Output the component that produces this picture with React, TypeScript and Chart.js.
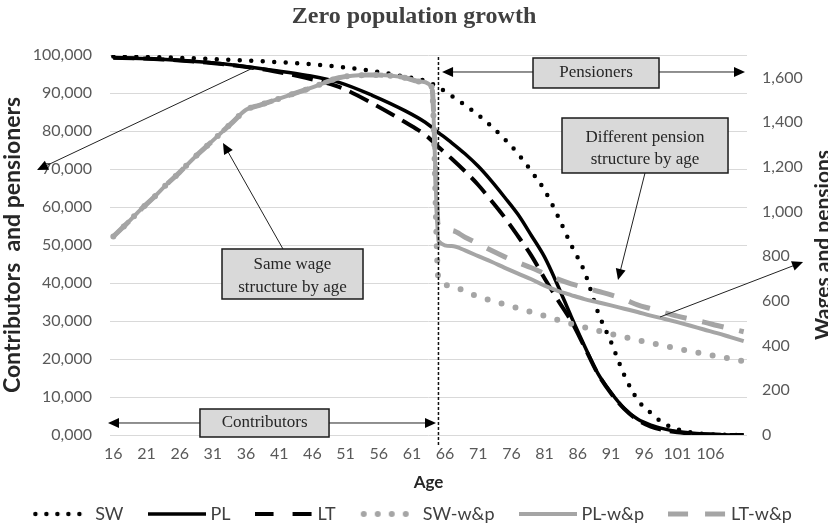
import React, { useEffect, useRef } from 'react';
import { Chart, registerables } from 'chart.js';

Chart.register(...registerables);

const chartTitle = 'Zero population growth';
const seriesNames = ['SW', 'PL', 'LT', 'SW-w&p', 'PL-w&p', 'LT-w&p'];

const xTickAges = [16, 21, 26, 31, 36, 41, 46, 51, 56, 61, 66, 71, 76, 81, 86, 91, 96, 101, 106];
const leftTickValues = [0, 10000, 20000, 30000, 40000, 50000, 60000, 70000, 80000, 90000, 100000];
const leftTickLabels = ['0,000', '10,000', '20,000', '30,000', '40,000', '50,000', '60,000', '70,000', '80,000', '90,000', '100,000'];
const rightTickValues = [0, 200, 400, 600, 800, 1000, 1200, 1400, 1600];
const rightTickLabels = ['0', '200', '400', '600', '800', '1,000', '1,200', '1,400', '1,600'];

// Population (left axis)
const popAges = [16, 20, 25, 30, 35, 40, 45, 50, 55, 60, 63, 65, 67, 69, 71, 73, 75, 77, 79, 81, 83, 85, 87, 89, 91, 93, 95, 97, 99, 101, 103, 105, 107, 109, 111];
const swPop = [99600, 99500, 99300, 99000, 98600, 98200, 97700, 96900, 95800, 94300, 93200, 91500, 89200, 86800, 84200, 81200, 77800, 74000, 69400, 64400, 57600, 50000, 43000, 32500, 24500, 15800, 9300, 5800, 3000, 1500, 700, 300, 100, 30, 0];
const plPop = [99300, 99100, 98700, 98100, 97200, 96000, 94700, 92800, 89400, 85300, 82300, 79600, 76900, 74000, 70700, 66800, 62500, 58000, 52500, 46800, 39300, 31200, 23500, 16300, 11200, 7000, 4200, 2600, 1600, 900, 500, 250, 100, 30, 0];
const ltPop = [99300, 99100, 98700, 98000, 97100, 95800, 94000, 91600, 87300, 82300, 79000, 75800, 72700, 69400, 65800, 61600, 57200, 52300, 47200, 41200, 35500, 30000, 23200, 16200, 11000, 6900, 4000, 2200, 1300, 700, 400, 200, 80, 20, 0];

// Wages (working ages, identical for the three w&p series) and pensions (right axis)
const wageAges = [16, 18, 20, 22, 24, 26, 28, 30, 32, 34, 36, 38, 40, 42, 44, 46, 48, 50, 52, 54, 56, 58, 60, 62, 64];
const wageValues = [888, 945, 1005, 1060, 1120, 1175, 1235, 1290, 1345, 1400, 1455, 1475, 1495, 1515, 1535, 1555, 1578, 1598, 1607, 1610, 1610, 1607, 1598, 1582, 1557];
const pensionAges = [65, 67, 69, 71, 73, 75, 77, 79, 81, 83, 85, 87, 89, 91, 93, 95, 97, 99, 101, 103, 105, 107, 109, 111];
const swPension = [700, 668, 642, 620, 601, 584, 567, 550, 533, 515, 498, 482, 467, 452, 438, 425, 412, 399, 387, 375, 363, 352, 341, 330];
const plPension = [867, 845, 826, 800, 775, 748, 722, 697, 668, 645, 626, 608, 594, 580, 565, 550, 534, 520, 505, 489, 472, 456, 438, 420];
const ltPension = [940, 915, 885, 855, 825, 797, 772, 748, 722, 697, 676, 660, 643, 627, 607, 582, 565, 548, 532, 518, 505, 490, 476, 462];

const retirementAge = 65;

const pts = (xs: number[], ys: number[]) => xs.map((x, i) => ({ x, y: ys[i] }));

const BLACK = '#000000';
const GREY = '#a5a5a5';
const tickFont = { family: 'Lato, sans-serif', size: 16 };
const noteFont = "17px 'Liberation Serif', serif";

type LineStyle = { color: string; width: number; dash: number[]; cap: CanvasLineCap };
const seriesStyles: LineStyle[] = [
  { color: BLACK, width: 4.5, dash: [0, 11.5], cap: 'round' },
  { color: BLACK, width: 3.5, dash: [], cap: 'butt' },
  { color: BLACK, width: 4, dash: [21, 9], cap: 'butt' },
  { color: GREY, width: 6, dash: [0, 14.5], cap: 'round' },
  { color: GREY, width: 4, dash: [], cap: 'butt' },
  { color: GREY, width: 5, dash: [22, 16], cap: 'butt' },
];
const legendDashes: number[][] = [[0, 11], [], [19, 19], [0, 14], [], [20, 17]];

function legendSample(i: number): HTMLCanvasElement {
  const s = seriesStyles[i];
  const c = document.createElement('canvas');
  c.width = 58;
  c.height = 12;
  const g = c.getContext('2d')!;
  g.strokeStyle = s.color;
  g.lineWidth = s.width;
  g.lineCap = s.cap;
  g.setLineDash(legendDashes[i]);
  g.beginPath();
  const start = s.cap === 'round' ? s.width / 2 + 1 : 0;
  g.moveTo(start, 6);
  g.lineTo(58, 6);
  g.stroke();
  return c;
}

function drawArrow(ctx: CanvasRenderingContext2D, x1: number, y1: number, x2: number, y2: number) {
  const a = Math.atan2(y2 - y1, x2 - x1);
  const L = 11;
  const W = 5;
  ctx.beginPath();
  ctx.moveTo(x1, y1);
  ctx.lineTo(x2 - (L - 2) * Math.cos(a), y2 - (L - 2) * Math.sin(a));
  ctx.stroke();
  ctx.beginPath();
  ctx.moveTo(x2, y2);
  ctx.lineTo(x2 - L * Math.cos(a) + W * Math.sin(a), y2 - L * Math.sin(a) - W * Math.cos(a));
  ctx.lineTo(x2 - L * Math.cos(a) - W * Math.sin(a), y2 - L * Math.sin(a) + W * Math.cos(a));
  ctx.closePath();
  ctx.fill();
}

function drawBox(ctx: CanvasRenderingContext2D, x1: number, y1: number, x2: number, y2: number, lines: string[], cx: number, ys: number[]) {
  ctx.save();
  ctx.fillStyle = '#d9d9d9';
  ctx.fillRect(x1, y1, x2 - x1, y2 - y1);
  ctx.strokeStyle = '#1a1a1a';
  ctx.lineWidth = 1.5;
  ctx.strokeRect(x1, y1, x2 - x1, y2 - y1);
  ctx.fillStyle = '#262626';
  ctx.font = noteFont;
  ctx.textAlign = 'center';
  ctx.textBaseline = 'middle';
  lines.forEach((t, i) => ctx.fillText(t, cx, ys[i]));
  ctx.restore();
}

const annotationPlugin = {
  id: 'annotations',
  afterDatasetsDraw(chart: any) {
    const { ctx } = chart;
    const xs = chart.scales.x;
    const ys = chart.scales.y;
    const X = (a: number) => xs.getPixelForValue(a);
    const Y = (v: number) => ys.getPixelForValue(v);
    ctx.save();
    // retirement line
    ctx.strokeStyle = '#111';
    ctx.lineWidth = 1.5;
    ctx.setLineDash([3, 2]);
    ctx.beginPath();
    ctx.moveTo(X(retirementAge), Y(99470));
    ctx.lineTo(X(retirementAge), Y(-3160));
    ctx.stroke();
    ctx.setLineDash([]);

    ctx.strokeStyle = '#222';
    ctx.fillStyle = '#000';
    ctx.lineWidth = 1;
    // Pensioners
    drawArrow(ctx, X(79.25), Y(95530), X(65.54), Y(95530));
    drawArrow(ctx, X(98.24), Y(95530), X(111.2), Y(95530));
    // Different pension structure
    drawArrow(ctx, X(96.13), Y(68950), X(92.06), Y(40790));
    drawArrow(ctx, X(98.39), Y(31050), X(119.95), Y(45530));
    // left arrow to axis
    drawArrow(ctx, X(37.05), Y(96580), X(4.5), Y(69740));
    // same wage arrow
    drawArrow(ctx, X(41.57), Y(48950), X(32.53), Y(76840));
    // contributors
    drawArrow(ctx, X(29.06), Y(3158), X(15.2), Y(3158));
    drawArrow(ctx, X(48.51), Y(3158), X(64.63), Y(3158));

    drawBox(ctx, X(79.25), Y(99210), X(98.24), Y(91320), ['Pensioners'], X(88.75), [Y(95260)]);
    drawBox(ctx, X(83.62), Y(83420), X(108.64), Y(68950), ['Different pension', 'structure by age'], X(96.13), [Y(78240), Y(72370)]);
    drawBox(ctx, X(32.38), Y(48950), X(53.63), Y(35790), ['Same wage', 'structure by age'], X(43.0), [Y(44740), Y(38680)]);
    drawBox(ctx, X(29.06), Y(6842), X(48.51), Y(-526), ['Contributors'], X(38.8), [Y(3158)]);
    ctx.restore();
  },
  afterDraw(chart: any) {
    const { ctx, chartArea } = chart;
    ctx.save();
    ctx.translate(830, (chartArea.top + chartArea.bottom) / 2);
    ctx.rotate(-Math.PI / 2);
    ctx.font = "bold 21px Lato, sans-serif";
    ctx.fillStyle = '#262626';
    ctx.textAlign = 'center';
    ctx.textBaseline = 'alphabetic';
    ctx.fillText('Wages and pensions', 0, 0);
    ctx.restore();
  },
};

export default function App() {
  const ref = useRef<HTMLCanvasElement>(null);
  useEffect(() => {
    const canvas = ref.current;
    if (!canvas) return;
    const wp = (pension: number[]) => pts(wageAges, wageValues).concat(pts(pensionAges, pension));
    const seriesData = [pts(popAges, swPop), pts(popAges, plPop), pts(popAges, ltPop), wp(swPension), wp(plPension), wp(ltPension)];
    const samples = seriesNames.map((_, i) => legendSample(i));
    const datasets = seriesNames.map((name, i) => ({
      label: name,
      data: seriesData[i],
      yAxisID: i < 3 ? 'y' : 'y1',
      borderColor: seriesStyles[i].color,
      backgroundColor: seriesStyles[i].color,
      borderWidth: seriesStyles[i].width,
      borderDash: seriesStyles[i].dash,
      borderCapStyle: seriesStyles[i].cap,
      pointRadius: 0,
      pointHoverRadius: 0,
      fill: false,
      cubicInterpolationMode: 'monotone',
      order: 6 - i,
    }));
    const chart = new Chart(canvas, {
      type: 'line',
      data: { datasets: datasets as any },
      options: {
        animation: false,
        responsive: false,
        devicePixelRatio: 1,
        layout: { padding: { left: 0, right: 0, top: 0, bottom: -3 } },
        plugins: {
          title: {
            display: true,
            text: chartTitle,
            color: '#404040',
            font: { family: "'Liberation Serif', serif", size: 24, weight: 'bold' },
            padding: { top: 2, bottom: 24.2 },
          },
          legend: {
            position: 'bottom',
            labels: {
              usePointStyle: true,
              pointStyleWidth: 50,
              boxHeight: 16,
              padding: 28,
              color: '#404040',
              font: { family: 'Lato, sans-serif', size: 18 },
              sort: (a: any, b: any) => a.datasetIndex - b.datasetIndex,
              generateLabels: (ch: any) => {
                const items = (Chart.defaults.plugins.legend.labels as any).generateLabels(ch);
                return items.map((it: any) => ({ ...it, pointStyle: samples[it.datasetIndex] }));
              },
            },
          },
          tooltip: { enabled: false },
        },
        scales: {
          x: {
            type: 'linear',
            min: 15.5,
            max: 111.5,
            afterBuildTicks: (s: any) => { s.ticks = xTickAges.map((v) => ({ value: v })); },
            afterFit: (s: any) => { s.height = 42; },
            grid: { display: false, drawTicks: false },
            border: { display: false },
            ticks: { autoSkip: false, maxRotation: 0, padding: 9, color: '#595959', font: tickFont, callback: (v: any) => String(v) },
            title: { display: true, text: 'Age', color: '#262626', font: { family: 'Lato, sans-serif', size: 17, weight: 'bold' }, padding: { top: 0, bottom: -16.2 } },
          },
          y: {
            position: 'left',
            min: 0,
            max: 100000,
            afterBuildTicks: (s: any) => { s.ticks = leftTickValues.map((v) => ({ value: v })); },
            afterFit: (s: any) => { s.width = 110; },
            grid: { color: '#d9d9d9', lineWidth: 1, drawTicks: false },
            border: { display: false },
            ticks: { padding: 18, color: '#595959', font: tickFont, callback: (v: any) => leftTickLabels[leftTickValues.indexOf(Number(v))] },
            title: { display: true, text: 'Contributors  and pensioners', color: '#262626', font: { family: 'Lato, sans-serif', size: 23, weight: 'bold' }, padding: { top: -1, bottom: 0 } },
          },
          y1: {
            position: 'right',
            min: 0,
            max: 1700,
            afterBuildTicks: (s: any) => { s.ticks = rightTickValues.map((v) => ({ value: v })); },
            afterFit: (s: any) => { s.width = 81; },
            grid: { display: false, drawTicks: false },
            border: { display: false },
            ticks: { padding: 15, color: '#595959', font: tickFont, callback: (v: any) => rightTickLabels[rightTickValues.indexOf(Number(v))] },
          },
        },
      } as any,
      plugins: [annotationPlugin],
    });
    return () => chart.destroy();
  }, []);
  return (
    <div style={{ position: 'absolute', left: 0, top: 0, width: 828, height: 530, background: '#ffffff' }}>
      <canvas ref={ref} width={828} height={530} style={{ display: 'block', width: 828, height: 530 }} />
    </div>
  );
}
